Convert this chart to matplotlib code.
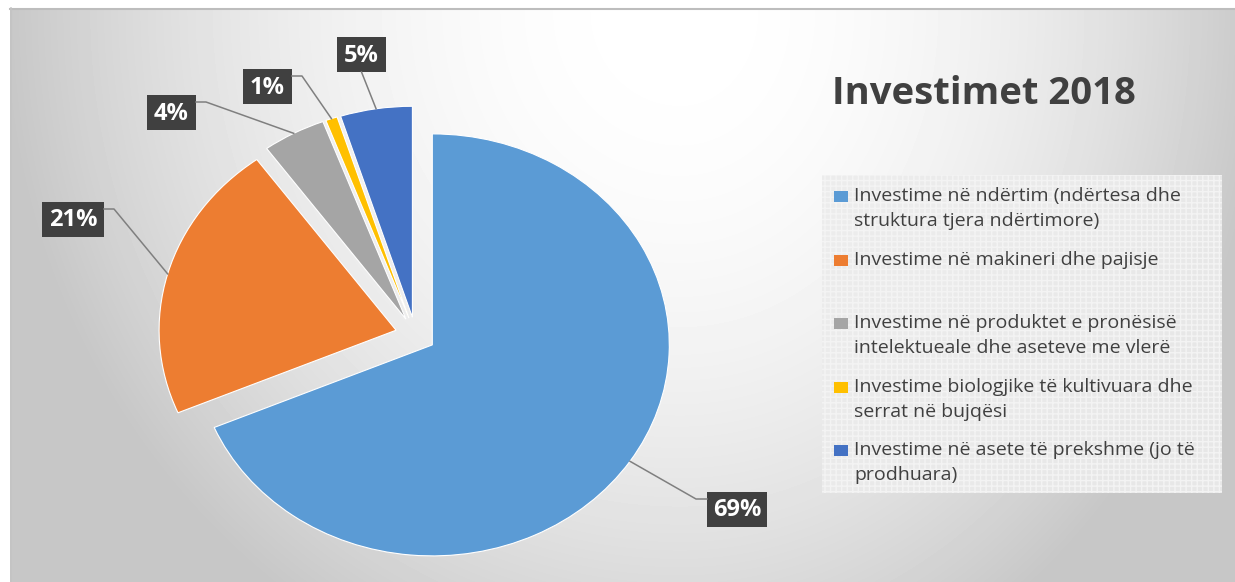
import numpy as np
import matplotlib.pyplot as plt
from matplotlib.patches import Rectangle

# data
categories = [
    "Investime në ndërtim (ndërtesa dhe\nstruktura tjera ndërtimore)",
    "Investime në makineri dhe pajisje",
    "Investime në produktet e pronësisë\nintelektueale dhe aseteve me vlerë",
    "Investime biologjike të kultivuara dhe\nserrat në bujqësi",
    "Investime në asete të prekshme (jo të\nprodhuara)",
]
shares = [68.6, 21.4, 4.3, 0.8, 4.9]
colors = ['#5B9BD5', '#ED7D31', '#A5A5A5', '#FFC000', '#4472C4']
title = 'Investimet 2018'

# layout (pixels, y from top)
W, H = 1235, 582
cx, cy, rx, ry = 415.5, 335, 237, 211
explode = 0.085
# label boxes: x, y, w, h, side the leader joins
label_boxes = [(707, 492, 60, 35, 'left'), (42, 202, 62, 35, 'right'),
               (147, 95, 49, 35, 'right'), (243, 69, 49, 35, 'right'),
               (337, 37, 49, 35, 'bottom')]
legend_y = [195, 259, 322, 386, 449]

fig = plt.figure(figsize=(W / 100, H / 100), dpi=100)

# chart area background with a soft gradient
bg = fig.add_axes([0, 0, 1, 1])
bg.set_xlim(0, W)
bg.set_ylim(H, 0)
bg.axis('off')
yy, xx = np.mgrid[8:H, 10:W].astype(float)
sx = np.where(xx < 680, 660, 570)
t2 = ((xx - 680) / sx) ** 2 + ((yy - 10) / 700) ** 2
shade = np.clip(1 - 0.21 * t2, 0.78, 1.0)
bg.imshow(shade, cmap='gray', vmin=0, vmax=1, extent=(10, W, H, 8),
          aspect='auto', interpolation='bilinear')
bg.plot([10, W], [8.5, 8.5], color='#bdbdbd', lw=1.5)
bg.plot([10.5, 10.5], [8, H], color='#c4c4c4', lw=1.2)

# pie, stretched to an ellipse
pax = fig.add_axes([(cx - 1.3 * rx) / W, (H - cy - 1.3 * ry) / H,
                    2.6 * rx / W, 2.6 * ry / H])
pax.pie(shares, colors=colors, startangle=90, counterclock=False,
        explode=[explode] * len(shares),
        wedgeprops=dict(edgecolor='white', linewidth=0.8))
pax.set_aspect('auto')
pax.set_xlim(-1.3, 1.3)
pax.set_ylim(-1.3, 1.3)
pax.axis('off')

# overlay for labels, leaders and legend
ov = fig.add_axes([0, 0, 1, 1])
ov.set_xlim(0, W)
ov.set_ylim(H, 0)
ov.axis('off')
ov.patch.set_alpha(0)

total = sum(shares)
cum = 0
for v, (bx, by, bw, bh, side) in zip(shares, label_boxes):
    ang = np.deg2rad(90 - 360 * (cum + v / 2) / total)
    cum += v
    px, py = pax.transData.transform(((1 + explode) * np.cos(ang),
                                      (1 + explode) * np.sin(ang)))
    py = H - py
    if side == 'bottom':
        xs, ys = [px, bx + bw / 2], [py, by + bh]
    elif side == 'left':
        xs, ys = [px, bx - 11, bx], [py, by + 7, by + 7]
    else:
        xs, ys = [px, bx + bw + 10, bx + bw], [py, by + 7, by + 7]
    ov.plot(xs, ys, color='#7f7f7f', lw=1.1)
    ov.add_patch(Rectangle((bx, by), bw, bh, facecolor='#404040', lw=0))
    ov.text(bx + bw / 2, by + bh / 2 + 1, f'{round(v)}%', color='white',
            fontsize=17, fontweight='bold', family='Open Sans',
            ha='center', va='center')

# title
ov.text(832, 104, title, fontsize=27.5, fontweight='bold', family='Open Sans',
        color='#404040', ha='left', va='baseline')

# legend
ov.add_patch(Rectangle((822, 175), 400, 318, facecolor='#ebebeb',
                       edgecolor='#f5f5f5', hatch='+++', lw=0, alpha=0.9))
for lab, c, y in zip(categories, colors, legend_y):
    ov.add_patch(Rectangle((834, y - 4), 14, 11, facecolor=c, lw=0))
    for i, line in enumerate(lab.split('\n')):
        ov.text(854, y + 6 + 25 * i, line, fontsize=14, family='Open Sans',
                color='#404040', ha='left', va='baseline')

fig.savefig('out.png', dpi=100)
